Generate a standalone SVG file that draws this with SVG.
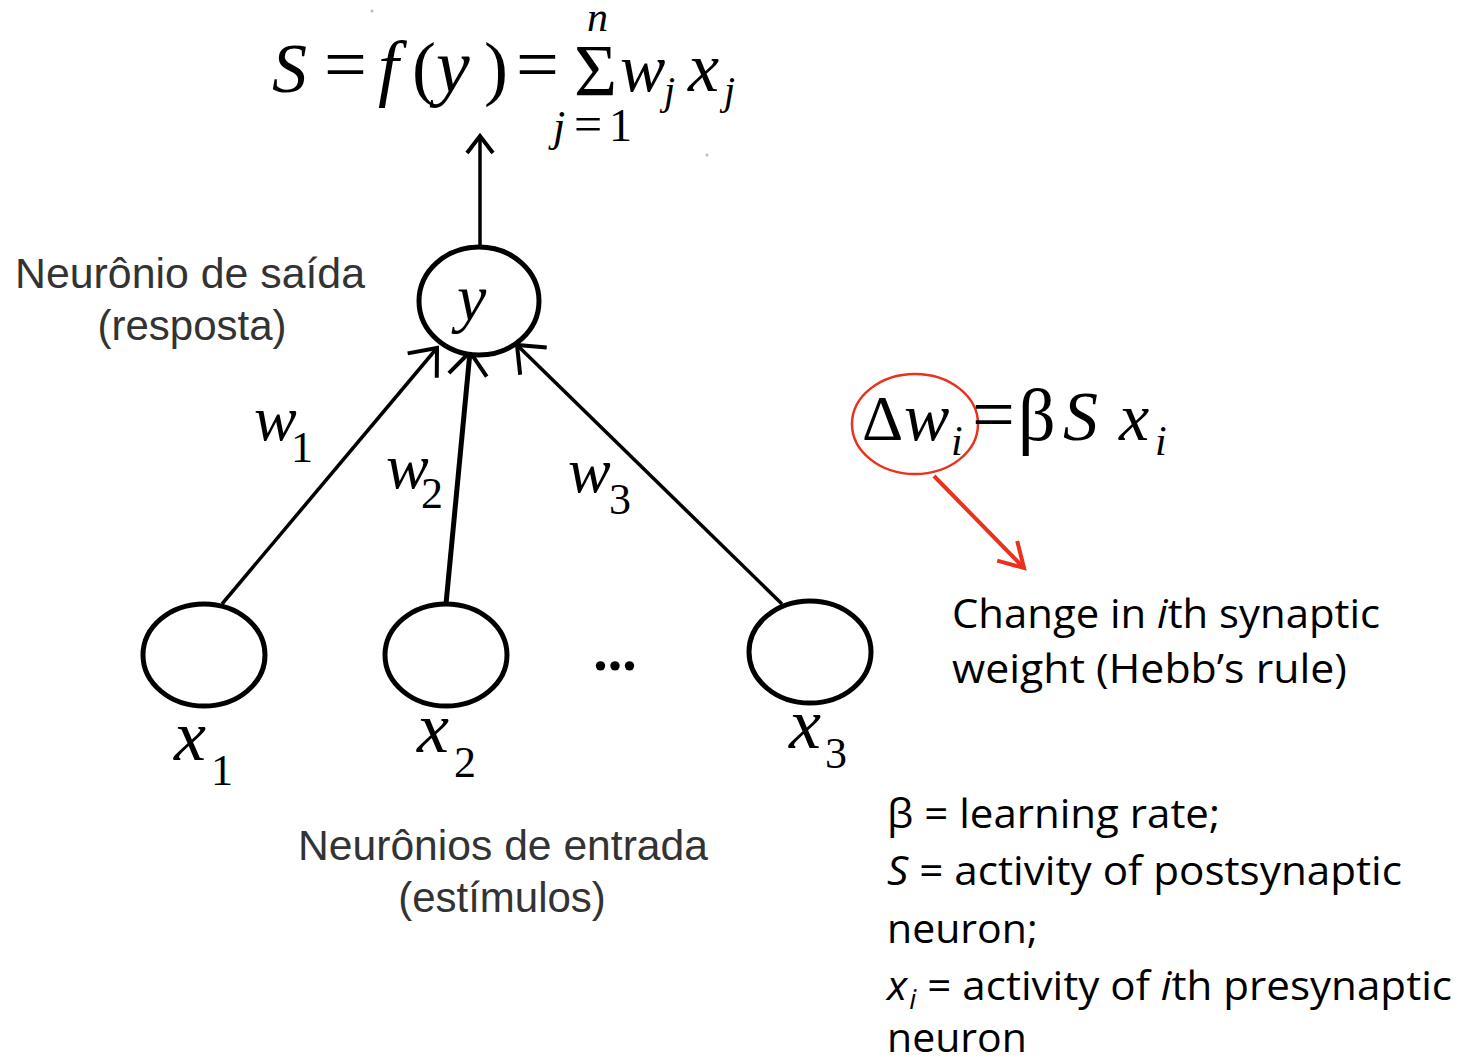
<svg xmlns="http://www.w3.org/2000/svg" width="1470" height="1061" viewBox="0 0 1470 1061">
<style>
.m{font-family:"Liberation Serif","Times New Roman",serif;fill:#000}
.i{font-style:italic}
.lab{font-family:"Liberation Sans",Arial,sans-serif;fill:#333;font-size:42px}
.cal{font-family:"Open Sans","Noto Sans",sans-serif;fill:#000;font-size:41px}
.node{fill:#fff;stroke:#000;stroke-width:5}
.edge{stroke:#000;fill:none}
</style>
<defs>
<marker id="ah" markerUnits="userSpaceOnUse" markerWidth="40" markerHeight="40" viewBox="-30 -20 40 40" refX="0" refY="0" orient="auto" overflow="visible">
<path d="M-23,-19 L0,0 L-23,19" fill="none" stroke="#000" stroke-width="4"/>
</marker>
<marker id="ahs" markerUnits="userSpaceOnUse" markerWidth="30" markerHeight="30" viewBox="-20 -15 30 30" refX="0" refY="0" orient="auto" overflow="visible">
<path d="M-17,-13 L0,0 L-17,13" fill="none" stroke="#000" stroke-width="4"/>
</marker>
<marker id="ahr" markerUnits="userSpaceOnUse" markerWidth="30" markerHeight="30" viewBox="-25 -15 30 30" refX="0" refY="0" orient="auto" overflow="visible">
<path d="M-24,-14 L0,0 L-24,14" fill="none" stroke="#e8321e" stroke-width="4"/>
</marker>
</defs>
<rect width="1470" height="1061" fill="#fff"/>

<g id="connectors">
<line class="edge" x1="480" y1="248" x2="480" y2="136" stroke-width="3.5" marker-end="url(#ahs)"/>
<line class="edge" x1="222" y1="604" x2="437" y2="348" stroke-width="3.5" marker-end="url(#ah)"/>
<line class="edge" x1="446" y1="604" x2="470" y2="352" stroke-width="5" marker-end="url(#ah)"/>
<line class="edge" x1="782" y1="604" x2="517" y2="345" stroke-width="3.5" marker-end="url(#ah)"/>
<line x1="934" y1="476" x2="1024" y2="568" stroke="#e8321e" stroke-width="4" marker-end="url(#ahr)"/>
</g>

<g id="formula-top">
<text class="m i" x="272" y="92" font-size="70">S</text>
<text class="m" x="324" y="90" font-size="76">=</text>
<text class="m i" x="378" y="92" font-size="74">f</text>
<text class="m" x="412" y="92" font-size="72">(</text>
<text class="m i" x="436" y="92" font-size="76">y</text>
<text class="m" x="484" y="92" font-size="72">)</text>
<text class="m" x="516" y="90" font-size="76">=</text>
<text class="m" x="574" y="96" font-size="74">Σ</text>
<text class="m i" x="587" y="31" font-size="42">n</text>
<text class="m i" x="553" y="141" font-size="44">j</text>
<text class="m" x="574" y="141" font-size="50">=</text>
<text class="m" x="609" y="141" font-size="46">1</text>
<text class="m i" x="620" y="91" font-size="68">w</text>
<text class="m i" x="664" y="104" font-size="40">j</text>
<text class="m i" x="688" y="91" font-size="70">x</text>
<text class="m i" x="724" y="104" font-size="40">j</text>
</g>

<g id="node-y">
<ellipse class="node" cx="479" cy="301" rx="60" ry="54"/>
<text class="m i" x="457" y="320" font-size="66">y</text>
</g>

<g id="label-output">
<text class="lab" x="15" y="288" textLength="350" lengthAdjust="spacingAndGlyphs">Neurônio de saída</text>
<text class="lab" x="192" y="340" text-anchor="middle">(resposta)</text>
</g>

<g id="weights">
<text class="m i" x="254" y="440" font-size="64">w</text>
<text class="m" x="291" y="462" font-size="44">1</text>
<text class="m i" x="386" y="488" font-size="64">w</text>
<text class="m" x="421" y="508" font-size="44">2</text>
<text class="m i" x="568" y="492" font-size="64">w</text>
<text class="m" x="609" y="514" font-size="44">3</text>
</g>

<g id="node-x1">
<ellipse class="node" cx="204" cy="655" rx="61" ry="51"/>
<text class="m i" x="174" y="760" font-size="72">x</text>
<text class="m" x="211" y="785" font-size="44">1</text>
</g>
<g id="node-x2">
<ellipse class="node" cx="446" cy="655" rx="61" ry="51"/>
<text class="m i" x="417" y="752" font-size="72">x</text>
<text class="m" x="454" y="777" font-size="44">2</text>
</g>
<g id="dots">
<text class="m" x="615" y="670" font-size="58" font-weight="bold" text-anchor="middle">...</text>
</g>
<g id="node-x3">
<ellipse class="node" cx="810" cy="652" rx="61" ry="51"/>
<text class="m i" x="789" y="748" font-size="72">x</text>
<text class="m" x="825" y="768" font-size="44">3</text>
</g>

<g id="label-input">
<text class="lab" x="298" y="860" textLength="410" lengthAdjust="spacingAndGlyphs">Neurônios de entrada</text>
<text class="lab" x="502" y="912" text-anchor="middle">(estímulos)</text>
</g>

<g id="formula-hebb">
<ellipse cx="915" cy="424" rx="63" ry="50" fill="none" stroke="#e8321e" stroke-width="2.5"/>
<text class="m" x="862" y="440" font-size="64">Δ</text>
<text class="m i" x="904" y="440" font-size="68">w</text>
<text class="m i" x="951" y="455" font-size="42">i</text>
<text class="m" x="972" y="440" font-size="76">=</text>
<text class="m" x="1018" y="440" font-size="74">β</text>
<text class="m i" x="1063" y="440" font-size="70">S</text>
<text class="m i" x="1119" y="440" font-size="68">x</text>
<text class="m i" x="1155" y="455" font-size="42">i</text>
</g>

<g id="text-change">
<text class="cal" x="952" y="628" textLength="428" lengthAdjust="spacingAndGlyphs">Change in <tspan font-style="italic">i</tspan>th synaptic</text>
<text class="cal" x="952" y="683" textLength="395" lengthAdjust="spacingAndGlyphs">weight (Hebb’s rule)</text>
</g>

<g id="text-legend">
<text class="cal" x="887" y="828" textLength="333" lengthAdjust="spacingAndGlyphs">β = learning rate;</text>
<text class="cal" x="887" y="885" textLength="515" lengthAdjust="spacingAndGlyphs"><tspan font-style="italic">S</tspan> = activity of postsynaptic</text>
<text class="cal" x="887" y="943">neuron;</text>
<text class="cal" x="887" y="1000" textLength="565" lengthAdjust="spacingAndGlyphs"><tspan font-style="italic">x</tspan><tspan font-style="italic" font-size="27" dy="9" dx="2">i</tspan><tspan dy="-9"> = activity of </tspan><tspan font-style="italic">i</tspan>th presynaptic</text>
<text class="cal" x="887" y="1052">neuron</text>
</g>

<circle cx="372" cy="11" r="1.5" fill="#bbb"/>
<circle cx="707" cy="155" r="1.5" fill="#bbb"/>
</svg>
